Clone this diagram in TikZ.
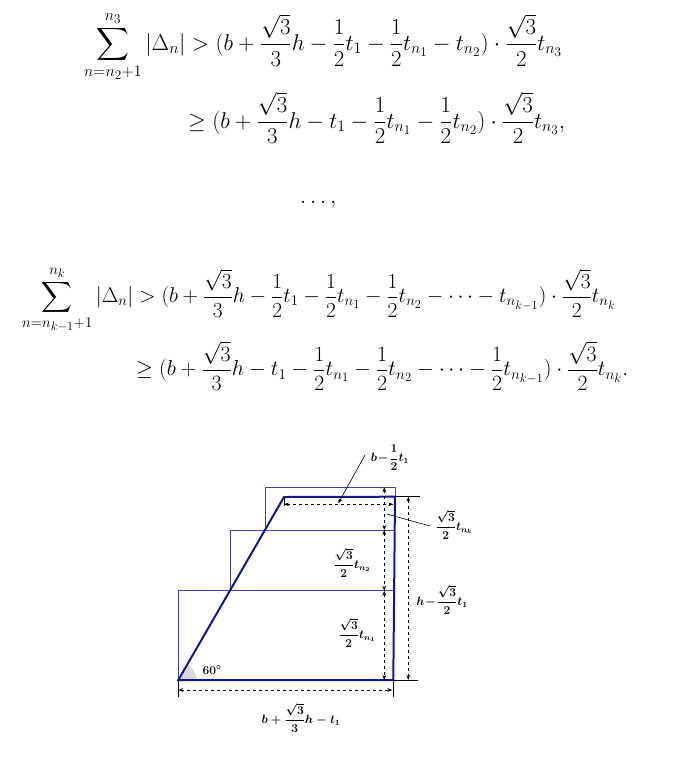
\documentclass[tikz,border=0pt]{standalone}
\usepackage{amsmath,graphicx}
\usetikzlibrary{arrows.meta}
\definecolor{navy}{RGB}{20,20,140}
\newcommand{\bigeq}[2][1.1]{\scalebox{#1}{$\displaystyle #2$}}
\begin{document}
\begin{tikzpicture}[x=1pt,y=-1pt,
  eq/.style={inner sep=0pt,anchor=west,font=\huge},
  thick line/.style={navy,line width=2pt},
  thin line/.style={navy!80,line width=0.6pt},
  dim/.style={dashed,line width=0.6pt,{Stealth[length=5pt]}-{Stealth[length=5pt]}},
  ext/.style={line width=0.6pt},
  lab/.style={inner sep=0pt,font=\fontsize{12}{13}\selectfont\boldmath}]
\useasboundingbox (0,0) rectangle (698,777);
\node[eq] (e1) at (84,47) {\bigeq{\sum_{n=n_2+1}^{n_3}|\Delta_n|>(b+\frac{\sqrt3}{3}h-\frac12t_1-\frac12t_{n_1}-t_{n_2})\cdot\frac{\sqrt3}{2}t_{n_3}}};
\node[eq] (e2) at (188,118) {\bigeq{\geq(b+\frac{\sqrt3}{3}h-t_1-\frac12t_{n_1}-\frac12t_{n_2})\cdot\frac{\sqrt3}{2}t_{n_3},}};
\node[eq] (e3) at (300,205) {\bigeq{\ldots,}};
\node[eq] (e4) at (22,300) {\bigeq[1.03]{\sum_{n=n_{k-1}+1}^{n_k}|\Delta_n|>(b+\frac{\sqrt3}{3}h-\frac12t_1-\frac12t_{n_1}-\frac12t_{n_2}-\cdots-t_{n_{k-1}})\cdot\frac{\sqrt3}{2}t_{n_k}}};
\node[eq] (e5) at (136,366) {\bigeq[1.05]{\geq(b+\frac{\sqrt3}{3}h-t_1-\frac12t_{n_1}-\frac12t_{n_2}-\cdots-\frac12t_{n_{k-1}})\cdot\frac{\sqrt3}{2}t_{n_k}.}};
% diagram
\coordinate (A) at (178.3,680);
\coordinate (B) at (393.3,680);
\coordinate (C) at (395,496.7);
\coordinate (D) at (284,497);
\fill[gray!30] (A) -- ++(18,0) arc[start angle=0,end angle=-60,radius=18] -- cycle;
\draw[thin line] (178.3,680) -- (178.3,590.7) -- (395,590.7);
\draw[thin line] (230,590.7) -- (230,530) -- (395,530);
\draw[thin line] (265.3,530) -- (265.3,487.3) -- (395.7,487.3) -- (395.7,497);
\draw[thick line] (A) -- (D) -- (C) -- (B) -- cycle;
\draw[dim] (384.3,487.3) -- (384.3,530);
\draw[dim] (384.3,530) -- (384.3,590.7);
\draw[dim] (384.3,590.7) -- (384.3,680);
\draw[ext] (395,496.7) -- (420,496.7);
\draw[ext] (393,680) -- (418,680);
\draw[dim] (408.3,496.7) -- (408.3,680);
\draw[ext] (284,497) -- (284,505.5);
\draw[dim] (284,504.3) -- (393.3,504.3);
\draw[ext] (A) -- (178.3,696.7);
\draw[ext] (B) -- (393.3,696.7);
\draw[dim] (178.3,690) -- (392.3,690);
\node[lab] (l1) at (390,458) {$b\!-\!\dfrac12t_1$};
\node[lab] (l2) at (454,525) {$\dfrac{\sqrt3}{2}t_{n_k}$};
\node[lab] (l3) at (352,563) {$\dfrac{\sqrt3}{2}t_{n_2}$};
\node[lab] (l4) at (442,600) {$h\!-\!\dfrac{\sqrt3}{2}t_1$};
\node[lab] (l5) at (357,633) {$\dfrac{\sqrt3}{2}t_{n_1}$};
\node[lab] (l6) at (301,718) {$b+\dfrac{\sqrt3}{3}h-t_1$};
\node[lab] (l7) at (212,670) {$60^\circ$};
\coordinate (p1) at (365,455);
\coordinate (q1) at (338.3,503.3);
\draw[line width=0.6pt,-{Stealth[length=5pt]}] (p1) -- (q1);
\coordinate (p2) at (430,526);
\coordinate (q2) at (386.7,514);
\draw[line width=0.6pt] (p2) -- (q2);
\end{tikzpicture}
\end{document}
